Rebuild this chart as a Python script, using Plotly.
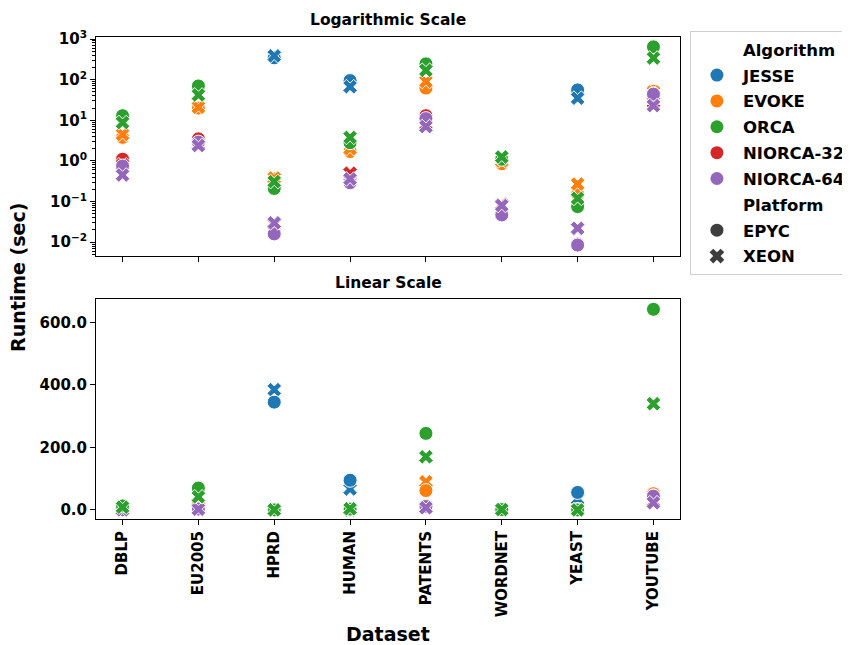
import plotly.graph_objects as go

datasets = ["DBLP", "EU2005", "HPRD", "HUMAN", "PATENTS", "WORDNET", "YEAST", "YOUTUBE"]
algorithms = ["JESSE", "EVOKE", "ORCA", "NIORCA-32", "NIORCA-64"]
platforms = ["EPYC", "XEON"]
colors = ["#1f77b4", "#ff7f0e", "#2ca02c", "#d62728", "#9467bd"]

jesse_epyc = [None, None, 345, 95, None, None, 56, None]
jesse_xeon = [None, None, 385, 67, None, None, 35, None]
evoke_epyc = [3.8, 20, 0.36, 1.7, 62, 0.85, 0.15, 52]
evoke_xeon = [4.5, 21, 0.38, 2.0, 90, 1.0, 0.27, 50]
orca_epyc = [13, 70, 0.21, 2.8, 245, 1.1, 0.075, 642]
orca_xeon = [8.8, 42, 0.31, 3.8, 170, 1.25, 0.12, 340]
niorca32_epyc = [1.1, 3.5, 0.017, 0.35, 13, 0.05, 0.009, 45]
niorca32_xeon = [0.8, 2.6, 0.028, 0.5, 8, 0.085, 0.022, 28]
niorca64_epyc = [0.75, 2.9, 0.016, 0.29, 11, 0.047, 0.0085, 44]
niorca64_xeon = [0.45, 2.4, 0.03, 0.36, 7, 0.08, 0.022, 23]

values = {
    ("JESSE", "EPYC"): jesse_epyc, ("JESSE", "XEON"): jesse_xeon,
    ("EVOKE", "EPYC"): evoke_epyc, ("EVOKE", "XEON"): evoke_xeon,
    ("ORCA", "EPYC"): orca_epyc, ("ORCA", "XEON"): orca_xeon,
    ("NIORCA-32", "EPYC"): niorca32_epyc, ("NIORCA-32", "XEON"): niorca32_xeon,
    ("NIORCA-64", "EPYC"): niorca64_epyc, ("NIORCA-64", "XEON"): niorca64_xeon,
}
color_of = dict(zip(algorithms, colors))

log_tickvals = [0.01, 0.1, 1, 10, 100, 1000]
log_ticktext = ["10<sup>\u22122</sup>", "10<sup>\u22121</sup>", "10<sup>0</sup>",
                "10<sup>1</sup>", "10<sup>2</sup>", "10<sup>3</sup>"]
lin_tickvals = [0, 200, 400, 600]
lin_ticktext = ["0.0", "200.0", "400.0", "600.0"]

symbols = {"EPYC": "circle", "XEON": "x"}
FONT = "DejaVu Sans"

# drawing orders (which series lie on top where markers overlap)
log_order = [(a, p) for a in algorithms for p in ["EPYC", "XEON"]]
lin_order = [("JESSE", "XEON"), ("JESSE", "EPYC"), ("EVOKE", "XEON"), ("EVOKE", "EPYC"),
             ("NIORCA-32", "EPYC"), ("NIORCA-32", "XEON"), ("NIORCA-64", "EPYC"),
             ("NIORCA-64", "XEON"), ("ORCA", "EPYC"), ("ORCA", "XEON")]

fig = go.Figure()
for order, xa, ya in [(log_order, "x", "y"), (lin_order, "x2", "y2")]:
    for alg, plat in order:
        fig.add_trace(go.Scatter(
            x=datasets, y=values[(alg, plat)], mode="markers", xaxis=xa, yaxis=ya,
            showlegend=False, hoverinfo="skip",
            marker=dict(symbol=symbols[plat], size=14 if plat == "EPYC" else 13,
                        color=color_of[alg], line=dict(color="white", width=1)),
        ))

def legend_entry(name, color, symbol, group):
    fig.add_trace(go.Scatter(
        x=[None], y=[None], mode="markers", name=name, legendgroup=group,
        marker=dict(symbol=symbol, size=13, color=color, line=dict(width=0)),
    ))

legend_entry("Algorithm", "rgba(0,0,0,0)", "circle", "g0")
for i, alg in enumerate(algorithms):
    legend_entry(alg, color_of[alg], "circle", f"g{i+1}")
legend_entry("Platform", "rgba(0,0,0,0)", "circle", "g6")
legend_entry("EPYC", "#3d3d3d", "circle", "g7")
legend_entry("XEON", "#3d3d3d", "x", "g8")

tickfont = dict(family=FONT, size=15, color="black", weight="bold")
axis_common = dict(showline=True, linecolor="black", linewidth=1, mirror=True,
                   ticks="outside", ticklen=5, tickwidth=1, tickcolor="black",
                   showgrid=False, zeroline=False, tickfont=tickfont)

fig.update_layout(
    width=850, height=645,
    paper_bgcolor="white", plot_bgcolor="white",
    margin=dict(l=88, r=178, t=29, b=134, autoexpand=False),
    font=dict(family=FONT, color="black"),
    xaxis=dict(domain=[0, 1], anchor="y", showticklabels=False,
               categoryorder="array", categoryarray=datasets,
               range=[-0.35, 7.35], **axis_common),
    yaxis=dict(domain=[0.5456, 1], anchor="x", type="log",
               range=[-2.34, 3.05], tickvals=log_tickvals, ticktext=log_ticktext,
               minor=dict(ticks="outside", ticklen=3, tickcolor="black", tickwidth=1,
                          tickvals=[m * 10.0 ** e for e in range(-3, 4) for m in range(2, 10)]),
               **axis_common),
    xaxis2=dict(domain=[0, 1], anchor="y2", tickangle=-90,
                categoryorder="array", categoryarray=datasets,
                range=[-0.35, 7.35], **axis_common),
    yaxis2=dict(domain=[0, 0.4564], anchor="x2", range=[-29, 675],
                tickvals=lin_tickvals, ticktext=lin_ticktext, **axis_common),
    legend=dict(x=1.017, y=(519 - 31) / 482, xanchor="left", yanchor="top",
                bgcolor="white", bordercolor="#d0d0d0", borderwidth=1,
                font=dict(family=FONT, size=16.5, color="black", weight="bold"),
                tracegroupgap=1.4, itemwidth=42),
    annotations=[
        dict(text="Logarithmic Scale", xref="paper", yref="paper", x=0.5, y=1.035,
             xanchor="center", yanchor="middle", showarrow=False,
             font=dict(family=FONT, size=15.5, weight="bold", color="black")),
        dict(text="Linear Scale", xref="paper", yref="paper", x=0.5, y=(519 - 283) / 482,
             xanchor="center", yanchor="middle", showarrow=False,
             font=dict(family=FONT, size=15.5, weight="bold", color="black")),
        dict(text="Runtime (sec)", xref="paper", yref="paper", x=-(96 - 18) / 584, y=0.5,
             xanchor="center", yanchor="middle", textangle=-90, showarrow=False,
             font=dict(family=FONT, size=19, weight="bold", color="black")),
        dict(text="Dataset", xref="paper", yref="paper", x=0.5, y=-(634 - 519) / 482,
             xanchor="center", yanchor="middle", showarrow=False,
             font=dict(family=FONT, size=19, weight="bold", color="black")),
    ],
)

fig.write_html("out.html")
